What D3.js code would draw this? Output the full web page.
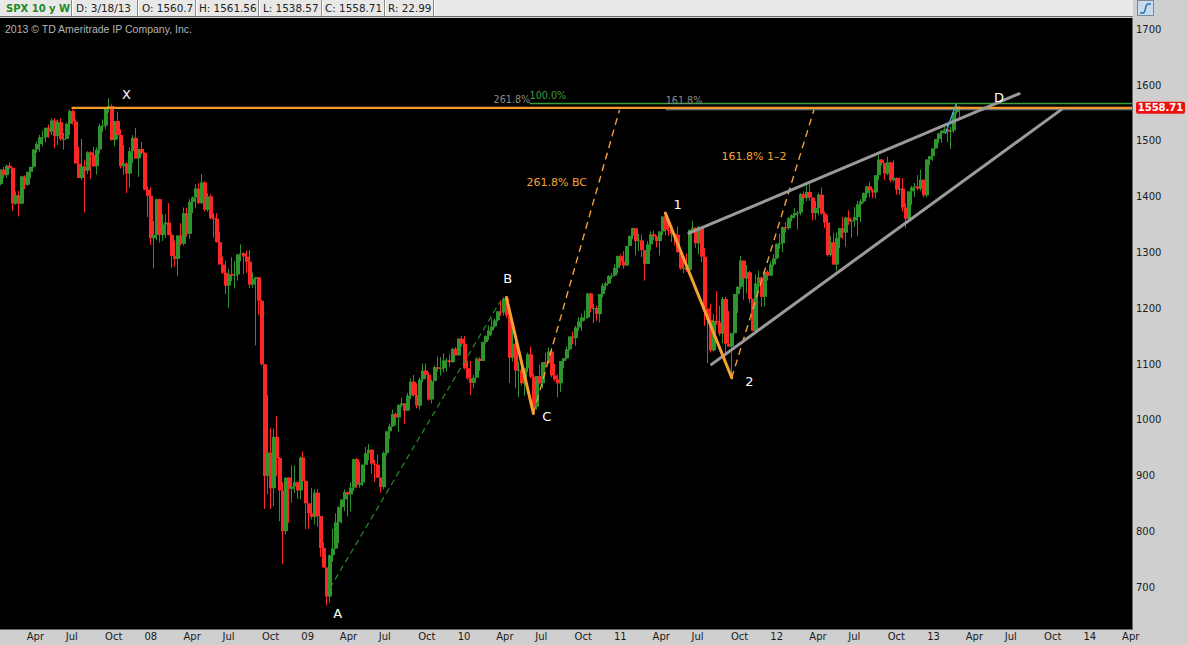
<!DOCTYPE html>
<html><head><meta charset="utf-8">
<script src="https://cdn.jsdelivr.net/npm/d3@7"></script>
<style>html,body{margin:0;padding:0;background:#000;overflow:hidden}</style>
</head><body><svg id="c" width="1188" height="645"></svg>
<script>
// ---------- DATA (weekly SPX candles, week of 2007-01-29 .. 2013-03-18) ----------
const firstWeek = "2007-01-29";
const opens = [
1422,1448,1438,1455,1451,1387,1402,1387,1436,1421,1444,1453,1484,1494,1506,1506,1523,1516,1536,1508,1533,1503,1503,1530,1553,1534,1459,1433,1454,1446,1479,1474,1454,1484,1526,1527,1558,1562,1501,1535,1510,1454,1459,1441,1481,1505,1468,1485,1478,
1412,1401,1325,1331,1395,1331,1350,1353,1331,1293,1288,1330,1315,1370,1333,1390,1398,1414,1388,1425,1376,1400,1361,1360,1318,1278,1263,1240,1261,1258,1260,1296,1298,1292,1283,1242,1252,1255,1213,1099,899,941,877,969,931,873,800,896,876,880,888,873,
932,890,850,832,826,869,827,770,735,683,757,769,816,843,857,870,866,878,929,883,887,919,940,946,921,919,896,879,940,979,988,1010,1004,1026,1029,1016,1043,1068,1044,1025,1072,1088,1080,1036,1069,1094,1091,1092,1106,1106,1103,1127,
1115,1145,1136,1092,1074,1066,1075,1109,1105,1139,1150,1160,1167,1178,1194,1192,1217,1187,1111,1136,1088,1089,1065,1092,1117,1077,1023,1078,1065,1103,1102,1122,1079,1072,1065,1105,1110,1126,1149,1146,1165,1176,1183,1183,1226,1199,1200,1189,1225,1240,1244,1257,
1258,1272,1293,1283,1276,1311,1329,1343,1320,1321,1304,1279,1314,1332,1328,1320,1337,1364,1340,1338,1333,1331,1300,1271,1272,1268,1340,1344,1316,1345,1292,1199,1179,1124,1177,1174,1154,1216,1136,1131,1155,1225,1238,1285,1253,1264,1216,1159,1244,1255,1220,1265,
1258,1278,1289,1315,1316,1345,1343,1361,1366,1370,1371,1404,1397,1408,1398,1370,1379,1403,1369,1353,1295,1318,1278,1326,1343,1335,1362,1355,1357,1363,1386,1391,1406,1418,1411,1407,1438,1466,1460,1441,1461,1429,1433,1412,1414,1380,1360,1409,1416,1418,1414,1430,1402,
1466,1472,1486,1503,1513,1518,1520,1516,1518,1551,1560.7];
const highs = [
1449,1453,1457,1461,1452,1409,1410,1437,1438,1444,1453,1485,1498,1510,1518,1523,1529,1540,1540,1538,1540,1514,1532,1556,1556,1538,1489,1503,1466,1481,1481,1489,1488,1530,1538,1560,1576,1565,1535,1552,1520,1492,1461,1488,1510,1523,1485,1498,1479,
1418,1416,1356,1396,1396,1368,1368,1388,1335,1321,1330,1352,1380,1380,1395,1400,1422,1424,1440,1427,1406,1404,1370,1370,1336,1292,1285,1270,1291,1284,1297,1314,1300,1303,1304,1264,1255,1255,1215,1099,1044,985,984,1007,933,888,896,897,918,918,889,934,
943,891,850,877,875,876,827,780,736,758,804,832,845,857,875,871,888,930,931,924,920,951,956,946,928,937,896,943,980,993,1018,1013,1028,1039,1029,1048,1074,1080,1065,1076,1101,1101,1085,1072,1097,1113,1112,1119,1110,1117,1128,1130,
1146,1150,1150,1106,1105,1080,1112,1112,1140,1151,1169,1181,1181,1195,1214,1219,1220,1197,1173,1141,1104,1106,1093,1120,1131,1082,1078,1099,1103,1120,1129,1129,1100,1081,1105,1110,1131,1149,1158,1168,1184,1190,1196,1227,1227,1207,1204,1225,1244,1247,1259,1263,
1278,1294,1297,1302,1312,1330,1344,1343,1333,1332,1304,1320,1337,1339,1330,1338,1364,1371,1352,1343,1334,1346,1302,1293,1298,1341,1356,1344,1347,1345,1307,1199,1208,1190,1230,1204,1220,1220,1195,1155,1224,1239,1293,1285,1277,1267,1217,1260,1267,1256,1266,1268,
1284,1297,1316,1333,1346,1354,1363,1368,1379,1374,1406,1409,1420,1422,1398,1392,1406,1416,1373,1366,1329,1335,1335,1343,1363,1363,1375,1359,1381,1392,1395,1407,1419,1426,1414,1438,1474,1467,1460,1471,1462,1465,1434,1434,1433,1388,1409,1419,1424,1438,1448,1430,1467,
1473,1486,1503,1514,1518,1525,1530,1525,1552,1564,1561.56];
const lows = [
1420,1433,1433,1448,1374,1385,1364,1386,1413,1419,1433,1451,1478,1480,1490,1497,1505,1510,1487,1492,1500,1484,1503,1510,1529,1458,1433,1429,1371,1440,1432,1453,1439,1477,1516,1520,1550,1500,1490,1503,1450,1438,1406,1416,1460,1467,1435,1475,1411,
1363,1313,1271,1322,1317,1320,1325,1330,1272,1274,1257,1312,1312,1328,1324,1370,1379,1386,1386,1373,1373,1359,1326,1317,1278,1261,1225,1200,1248,1235,1249,1284,1261,1263,1236,1236,1133,1188,1097,840,866,840,845,899,818,741,794,815,851,868,858,857,
889,804,804,821,812,808,754,734,667,672,745,768,779,814,836,826,835,872,878,878,881,919,927,903,888,896,869,875,936,965,987,990,978,1022,992,1016,1037,1041,1020,1018,1067,1073,1034,1029,1069,1086,1079,1085,1086,1095,1102,1115,
1115,1131,1090,1071,1044,1057,1075,1087,1105,1136,1142,1152,1165,1175,1186,1186,1182,1066,1104,1056,1040,1061,1043,1085,1074,1011,1018,1063,1056,1093,1100,1076,1069,1040,1049,1092,1108,1123,1135,1132,1159,1159,1177,1181,1192,1173,1177,1174,1219,1232,1243,1252,
1257,1262,1276,1270,1276,1311,1323,1294,1302,1291,1249,1279,1303,1322,1309,1294,1331,1330,1329,1318,1312,1299,1268,1262,1265,1268,1334,1308,1296,1282,1168,1101,1120,1122,1170,1150,1137,1114,1131,1075,1154,1191,1234,1215,1226,1209,1158,1158,1231,1202,1203,1249,
1258,1275,1287,1306,1300,1335,1340,1355,1361,1341,1366,1386,1391,1392,1357,1358,1366,1367,1343,1292,1292,1277,1267,1307,1324,1310,1349,1326,1345,1329,1354,1389,1397,1398,1397,1396,1429,1455,1430,1438,1425,1426,1403,1403,1373,1343,1358,1385,1399,1411,1410,1398,1398,
1456,1464,1485,1495,1496,1513,1497,1485,1514,1547,1538.57];
const closes = [
1448,1438,1455,1451,1387,1402,1387,1436,1421,1444,1453,1484,1494,1506,1506,1523,1516,1536,1508,1533,1503,1503,1530,1553,1534,1459,1433,1454,1446,1479,1474,1454,1484,1526,1527,1558,1562,1501,1535,1510,1454,1459,1441,1481,1505,1468,1485,1478,1412,
1401,1325,1331,1395,1331,1350,1353,1331,1293,1288,1330,1315,1370,1333,1390,1398,1414,1388,1425,1376,1400,1361,1360,1318,1278,1263,1240,1261,1258,1260,1296,1298,1292,1283,1242,1252,1255,1213,1099,899,941,877,969,931,873,800,896,876,880,888,873,932,
890,850,832,826,869,827,770,735,683,757,769,816,843,857,870,866,878,929,883,887,919,940,946,921,919,896,879,940,979,988,1010,1004,1026,1029,1016,1043,1068,1044,1025,1072,1088,1080,1036,1069,1094,1091,1092,1106,1106,1103,1127,1115,
1145,1136,1092,1074,1066,1075,1109,1105,1139,1150,1160,1167,1178,1194,1192,1217,1187,1111,1136,1088,1089,1065,1092,1117,1077,1023,1078,1065,1103,1102,1122,1079,1072,1065,1105,1110,1126,1149,1146,1165,1176,1183,1183,1226,1199,1200,1189,1225,1240,1244,1257,1258,
1272,1293,1283,1276,1311,1329,1343,1320,1321,1304,1279,1314,1332,1328,1320,1337,1364,1340,1338,1333,1331,1300,1271,1272,1268,1340,1344,1316,1345,1292,1199,1179,1124,1177,1174,1154,1216,1136,1131,1155,1225,1238,1285,1253,1264,1216,1159,1244,1255,1220,1265,1258,
1278,1289,1315,1316,1345,1343,1361,1366,1370,1371,1404,1397,1408,1398,1370,1379,1403,1369,1353,1295,1318,1278,1326,1343,1335,1362,1355,1357,1363,1386,1391,1406,1418,1411,1407,1438,1466,1460,1441,1461,1429,1433,1412,1414,1380,1360,1409,1416,1418,1414,1430,1402,1466,
1472,1486,1503,1513,1518,1520,1516,1518,1551,1561,1558.71];

const yTicks = [700,800,900,1000,1100,1200,1300,1400,1500,1600,1700];
const xTickDates = ["2007-04-01","2007-07-01","2007-10-01","2008-01-01","2008-04-01","2008-07-01","2008-10-01","2009-01-01","2009-04-01","2009-07-01","2009-10-01","2010-01-01","2010-04-01","2010-07-01","2010-10-01","2011-01-01","2011-04-01","2011-07-01","2011-10-01","2012-01-01","2012-04-01","2012-07-01","2012-10-01","2013-01-01","2013-04-01","2013-07-01","2013-10-01","2014-01-01","2014-04-01"];
const xTickLabels = ["Apr","Jul","Oct","08","Apr","Jul","Oct","09","Apr","Jul","Oct","10","Apr","Jul","Oct","11","Apr","Jul","Oct","12","Apr","Jul","Oct","13","Apr","Jul","Oct","14","Apr"];

const headerCells = ["SPX 10 y W","D: 3/18/13","O: 1560.7","H: 1561.56","L: 1538.57","C: 1558.71","R: 22.99"];
const lastPrice = 1558.71;

// annotation geometry in data space [date, price]
const abDashed   = [["2009-03-10",698],["2010-04-10",1210]];
const bcLeg      = [["2010-04-26",1219],["2010-06-28",1011]];
const bcExt      = [["2010-06-28",1011],["2011-01-15",1555]];
const leg12      = [["2011-05-02",1370],["2011-10-04",1075]];
const ext12      = [["2011-10-04",1075],["2012-04-13",1555]];
const wedgeUpper = [["2011-06-26",1334],["2013-08-05",1584]];
const wedgeLower = [["2011-08-18",1099],["2013-11-12",1556]];
const blueLeg    = [["2013-02-14",1513],["2013-03-11",1565]];
const levelOrange = {from:"2007-07-16", price:1558.71};
const levelGreen  = {from:"2010-06-19", price:1566.5};
const levelGrey   = {from:"2011-05-03", price:1555.3};
const pointLabels = [["X","2007-11-21",1583],["A","2009-03-28",653],["B","2010-04-29",1254],["C","2010-07-29",1006],["1","2011-05-31",1385],["2","2011-11-14",1069],["D","2013-06-19",1578]];
const pctLabels = [["261.8%","2010-03-27",1573.5,"#8a8a8a"],["100.0%","2010-06-19",1581,"#3a9a3a"],["161.8%","2011-05-03",1571,"#8a8a8a"],["261.8% BC","2010-06-12",1426,"#f4a43a"],["161.8% 1–2","2011-09-10",1472,"#f4a43a"]];

// ---------- LAYOUT ----------
const W = 1188, H = 645;
const plotL = 0, plotR = 1132, plotT = 18, plotB = 629;
const parse = d3.timeParse("%Y-%m-%d");
const x = d3.scaleTime().domain([parse("2008-01-01"), parse("2014-01-01")]).range([144, 1083]);
const y = d3.scaleLinear().domain([700, 1700]).range([587, 29]);
const P = p => [x(parse(p[0])), y(p[1])];

const svg = d3.select("#c");
svg.append("rect").attr("width", W).attr("height", H).attr("fill", "#cfcfcf");
// header
svg.append("rect").attr("x",0).attr("y",0).attr("width",1133).attr("height",17).attr("fill","#e8e8e8");
svg.append("line").attr("x1",0).attr("x2",1133).attr("y1",16.5).attr("y2",16.5).attr("stroke","#6a6a6a");
const sepX = [71,137,195,258,321,384,433];
const txtX = [6,76,142,199,263,325,388];
sepX.forEach(s => {
  svg.append("line").attr("x1",s+0.5).attr("x2",s+0.5).attr("y1",0).attr("y2",16).attr("stroke","#8a8a8a");
  svg.append("line").attr("x1",s+1.5).attr("x2",s+1.5).attr("y1",0).attr("y2",16).attr("stroke","#ffffff");
});
headerCells.forEach((t,i) => {
  svg.append("text").attr("x",txtX[i]).attr("y",12)
    .attr("font-family","DejaVu Sans").attr("font-size",i===0?10:10.4)
    .attr("font-weight",i===0?"bold":"normal")
    .attr("fill",i===0?"#1f8a1f":"#222").text(t);
});
// icon top right
svg.append("rect").attr("x",1137.5).attr("y",0.5).attr("width",16).attr("height",15).attr("fill","#c9dbe8").attr("stroke","#7a8a9a");
svg.append("path").attr("d","M1140,13 L1143,13 C1146,13 1145,4 1148,4 L1151,4").attr("fill","none").attr("stroke","#1f6fb8").attr("stroke-width",1.4);

// plot background
svg.append("rect").attr("x",plotL).attr("y",plotT).attr("width",plotR-plotL).attr("height",plotB-plotT).attr("fill","#000");
svg.append("line").attr("x1",plotR+0.5).attr("x2",plotR+0.5).attr("y1",plotT).attr("y2",plotB).attr("stroke","#6b6b6b");
svg.append("line").attr("x1",0).attr("x2",plotR+1).attr("y1",plotB+0.5).attr("y2",plotB+0.5).attr("stroke","#6b6b6b");
svg.append("defs").append("clipPath").attr("id","clip").append("rect")
  .attr("x",plotL).attr("y",plotT).attr("width",plotR-plotL).attr("height",plotB-plotT);
const g = svg.append("g").attr("clip-path","url(#clip)");

// copyright
g.append("text").attr("x",5).attr("y",33).attr("font-family","Liberation Sans").attr("font-size",10.5)
  .attr("fill","#b4b4b4").text("2013 © TD Ameritrade IP Company, Inc.");

// candles
const weeks = d3.timeMonday.range(parse(firstWeek), d3.timeMonday.offset(parse(firstWeek), closes.length));
const candles = weeks.map((d,i) => ({d, o:opens[i], h:highs[i], l:lows[i], c:closes[i]}));
const upC = "#2e952e", dnC = "#ff2626";
const cg = g.append("g");
cg.selectAll("line.w").data(candles).join("line").attr("class","w")
  .attr("x1", d => Math.round(x(d.d))+0.5).attr("x2", d => Math.round(x(d.d))+0.5)
  .attr("y1", d => y(d.h)).attr("y2", d => y(d.l))
  .attr("stroke", d => d.c >= d.o ? upC : dnC).attr("stroke-width",1);
cg.selectAll("rect.b").data(candles).join("rect").attr("class","b")
  .attr("x", d => Math.round(x(d.d)) - 1)
  .attr("width", 4)
  .attr("y", d => y(Math.max(d.o,d.c)))
  .attr("height", d => Math.max(1, Math.abs(y(d.o)-y(d.c))))
  .attr("fill", d => d.c >= d.o ? upC : dnC);

// horizontal levels
const lvl = (L, color, w) => g.append("line").attr("x1", x(parse(L.from))).attr("x2", plotR)
  .attr("y1", y(L.price)).attr("y2", y(L.price)).attr("stroke", color).attr("stroke-width", w);
lvl(levelGreen, "#35a035", 1.6);
lvl(levelGrey, "#7d8ea0", 1.2);
lvl(levelOrange, "#f39a28", 2.4);

// lines
const seg = (pts, color, w, dash) => {
  const a = P(pts[0]), b = P(pts[1]);
  const l = g.append("line").attr("x1",a[0]).attr("y1",a[1]).attr("x2",b[0]).attr("y2",b[1])
    .attr("stroke",color).attr("stroke-width",w).attr("stroke-linecap","round");
  if (dash) l.attr("stroke-dasharray",dash).attr("stroke-linecap","butt");
};
seg(abDashed, "#2a8a2a", 1.2, "6,4");
seg(bcExt, "#f4a03a", 1.4, "7,5");
seg(ext12, "#f4a03a", 1.4, "7,5");
seg(wedgeUpper, "#9a9a9a", 3);
seg(wedgeLower, "#9a9a9a", 3);
seg(bcLeg, "#f5a030", 3);
seg(leg12, "#f5a030", 3);
seg(blueLeg, "#4aa6dc", 1.4);

// labels
pctLabels.forEach(p => {
  g.append("text").attr("x", x(parse(p[1]))).attr("y", y(p[2])).attr("dy","0.35em")
    .attr("font-family","DejaVu Sans").attr("font-size", p[0].length > 7 ? 11 : 9.6)
    .attr("fill", p[3]).text(p[0]);
});
pointLabels.forEach(p => {
  g.append("text").attr("x", x(parse(p[1]))).attr("y", y(p[2])).attr("dy","0.36em")
    .attr("text-anchor","middle").attr("font-family","DejaVu Sans").attr("font-size",13)
    .attr("fill","#ffffff").text(p[0]);
});

// y axis
const ya = svg.append("g").attr("transform", `translate(${plotR+1},0)`)
  .call(d3.axisRight(y).tickValues(yTicks).tickSize(0).tickPadding(3).tickFormat(d3.format("d")));
ya.select(".domain").remove();
ya.selectAll("text").attr("font-family","DejaVu Sans").attr("font-size",10).attr("fill","#1a1a1a");

// x axis
const xa = svg.append("g").attr("transform", `translate(0,${plotB+1})`)
  .call(d3.axisBottom(x).tickValues(xTickDates.map(parse)).tickSize(0).tickPadding(3)
    .tickFormat((d,i) => xTickLabels[i]));
xa.select(".domain").remove();
xa.selectAll("text").attr("text-anchor","start").attr("font-family","DejaVu Sans").attr("font-size",10).attr("fill","#1a1a1a");

// last price tag
const ly = y(lastPrice);
svg.append("rect").attr("x",1136).attr("y",ly-6).attr("width",49).attr("height",12).attr("rx",2).attr("fill","#f01010");
svg.append("text").attr("x",1160.5).attr("y",ly).attr("dy","0.36em").attr("text-anchor","middle")
  .attr("font-family","DejaVu Sans").attr("font-size",10).attr("font-weight","bold").attr("fill","#fff").text(lastPrice.toFixed(2));
</script></body></html>
